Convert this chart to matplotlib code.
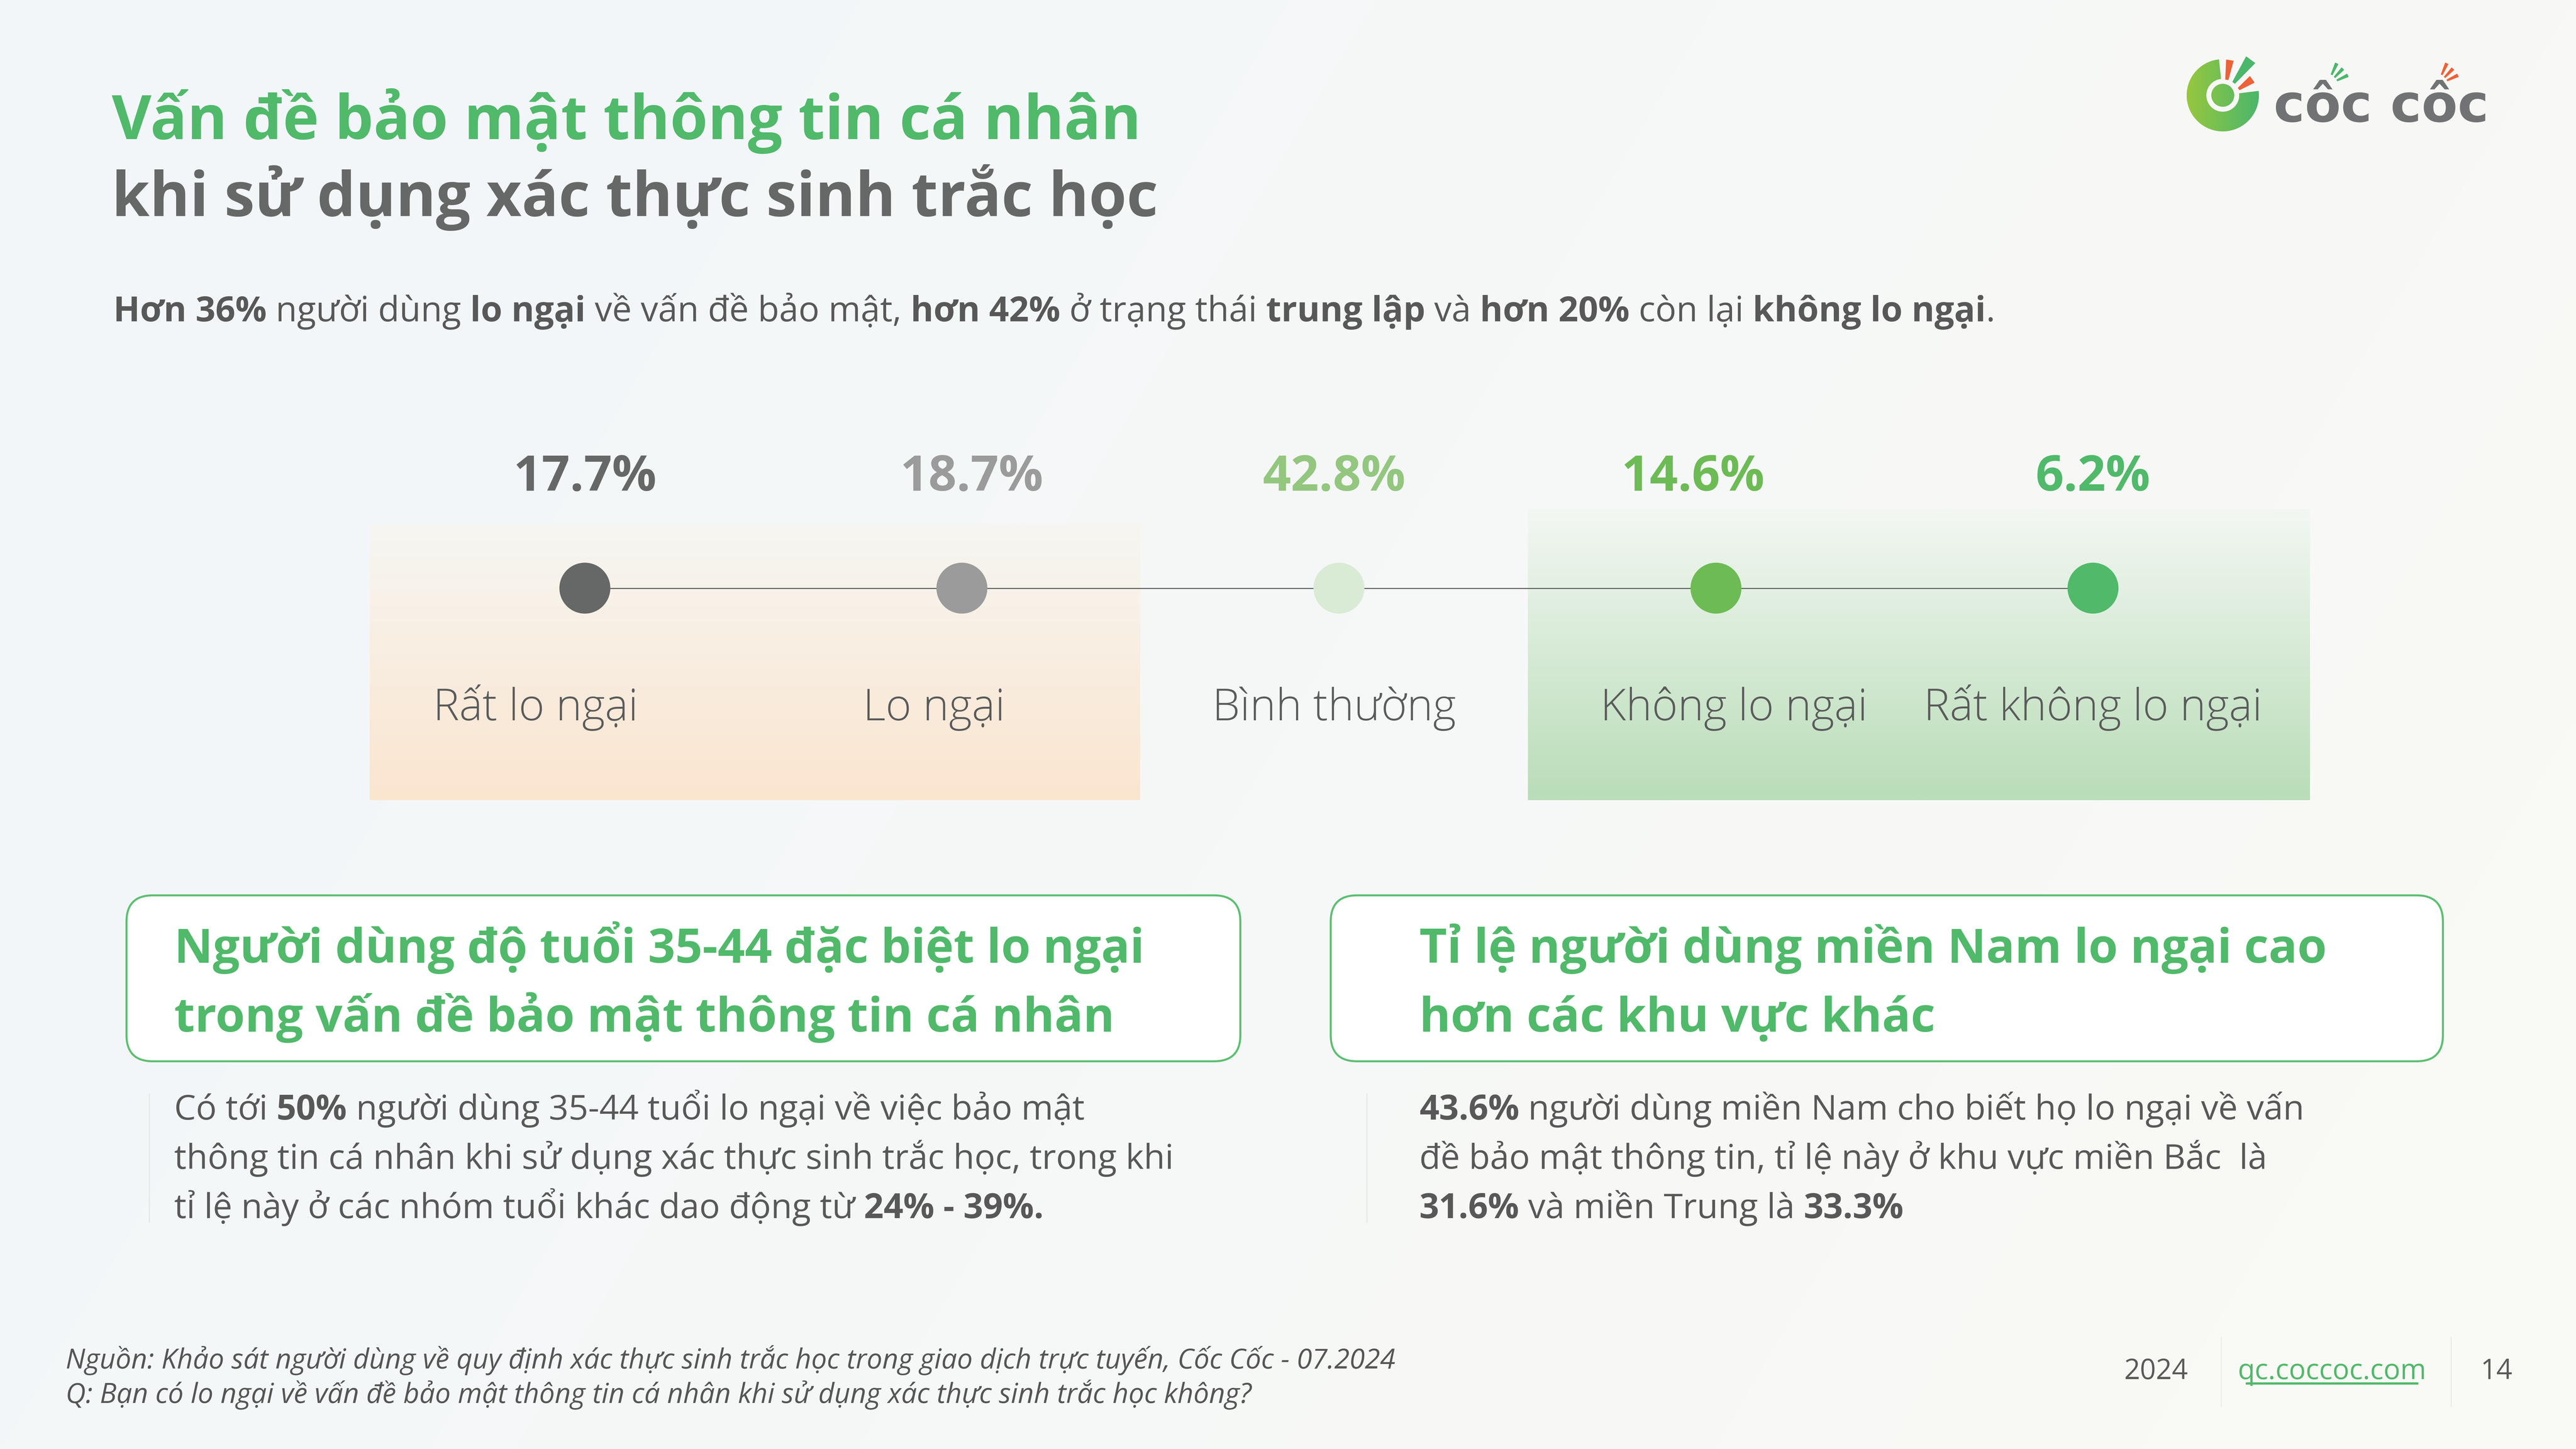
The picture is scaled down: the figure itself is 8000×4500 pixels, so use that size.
import numpy as np
import matplotlib
matplotlib.use("Agg")
import matplotlib.pyplot as plt
from matplotlib.patches import Wedge, Circle, FancyBboxPatch, Polygon
from matplotlib.colors import LinearSegmentedColormap, to_rgb

# ---------------- data ----------------
categories = ["Rất lo ngại", "Lo ngại", "Bình thường", "Không lo ngại", "Rất không lo ngại"]
shares = [17.7, 18.7, 42.8, 14.6, 6.2]
dot_colors = ["#666867", "#9A9B9A", "#D9EBD4", "#6DBB55", "#50B96A"]
pct_colors = ["#666867", "#9A9B9A", "#93C67F", "#6DBB55", "#50B96A"]

title_1 = "Vấn đề bảo mật thông tin cá nhân"
title_2 = "khi sử dụng xác thực sinh trắc học"
subtitle_parts = [("Hơn 36%", 1), (" người dùng ", 0), ("lo ngại", 1), (" về vấn đề bảo mật, ", 0),
                  ("hơn 42%", 1), (" ở trạng thái ", 0), ("trung lập", 1), (" và ", 0),
                  ("hơn 20%", 1), (" còn lại ", 0), ("không lo ngại", 1), (".", 0)]
card_left_title = ["Người dùng độ tuổi 35-44 đặc biệt lo ngại",
                   "trong vấn đề bảo mật thông tin cá nhân"]
card_left_body = [[("Có tới ", 0), ("50%", 1), (" người dùng 35-44 tuổi lo ngại về việc bảo mật", 0)],
                  [("thông tin cá nhân khi sử dụng xác thực sinh trắc học, trong khi", 0)],
                  [("tỉ lệ này ở các nhóm tuổi khác dao động từ ", 0), ("24% - 39%.", 1)]]
card_right_title = ["Tỉ lệ người dùng miền Nam lo ngại cao",
                    "hơn các khu vực khác"]
card_right_body = [[("43.6%", 1), (" người dùng miền Nam cho biết họ lo ngại về vấn", 0)],
                   [("đề bảo mật thông tin, tỉ lệ này ở khu vực miền Bắc  là", 0)],
                   [("31.6%", 1), (" và miền Trung là ", 0), ("33.3%", 1)]]
source_lines = ["Nguồn: Khảo sát người dùng về quy định xác thực sinh trắc học trong giao dịch trực tuyến, Cốc Cốc - 07.2024",
                "Q: Bạn có lo ngại về vấn đề bảo mật thông tin cá nhân khi sử dụng xác thực sinh trắc học không?"]
footer_year = "2024"
footer_url = "qc.coccoc.com"
footer_page = "14"

# ---------------- layout / style ----------------
W, H = 1568, 882            # layout units (reference preview pixels)
PT = (8000 / W) / (500 / 72)  # points per layout unit
FAM = "Open Sans"
GREEN = "#50B96A"
GRAY_T = "#666867"
BODY = "#585858"

fig = plt.figure(figsize=(16, 9), dpi=500)
ax = fig.add_axes([0, 0, 1, 1])
ax.set_xlim(0, W)
ax.set_ylim(H, 0)
ax.axis("off")
R = fig.canvas.get_renderer()
PXU = 8000 / W

# background gradient
yy, xx = np.mgrid[0:1:200j, 0:1:360j]
t = np.clip(xx * 0.75 + yy * 0.25, 0, 1)[..., None]
c0, c1 = np.array(to_rgb("#F2F6FA")), np.array(to_rgb("#FAFAF5"))
ax.imshow(c0 * (1 - t) + c1 * t, extent=(0, W, H, 0), aspect="auto", zorder=0, interpolation="bilinear")


def vgrad(x0, x1, y0, y1, ctop, cbot, z=1):
    g = np.linspace(0, 1, 256)[:, None, None]
    a, b = np.array(to_rgb(ctop)), np.array(to_rgb(cbot))
    img = a * (1 - g) + b * g
    ax.imshow(img, extent=(x0, x1, y1, y0), aspect="auto", zorder=z, interpolation="bilinear")


# highlight boxes
vgrad(225, 694, 319, 487, "#F6F6F2", "#FBE5CF")
vgrad(930, 1406, 310, 487, "#F3F7F3", "#B9DDB8")


def measure(s, **kw):
    a = ax.text(0, 0, s + "|", **kw)
    w1 = a.get_window_extent(R).width
    a.remove()
    b = ax.text(0, 0, "|", **kw)
    w2 = b.get_window_extent(R).width
    b.remove()
    return (w1 - w2) / PXU


def rich(x, y, parts, size, color, family=FAM, z=5):
    for s, bold in parts:
        kw = dict(fontsize=size, fontweight="bold" if bold else "normal", family=family)
        ax.text(x, y, s, color=color, va="baseline", ha="left", zorder=z, **kw)
        x += measure(s, **kw)


# titles
ax.text(68, 84.6, title_1, fontsize=37.2 * PT, fontweight="bold", family=FAM, color=GREEN, va="baseline")
ax.text(68, 131.5, title_2, fontsize=37.2 * PT, fontweight="bold", family=FAM, color=GRAY_T, va="baseline")
rich(69, 195.7, subtitle_parts, 21.2 * PT, BODY)

# ---------------- chart ----------------
cx0, cx1, cy0, cy1 = 225, 1406, 250, 500
ax2 = fig.add_axes([cx0 / W, 1 - cy1 / H, (cx1 - cx0) / W, (cy1 - cy0) / H])
u = 4 / (1274 - 356)
ax2.set_xlim(-(356 - cx0) * u, 4 + (cx1 - 1274) * u)
ax2.set_ylim(cy1, cy0)
ax2.axis("off")
ax2.patch.set_alpha(0)
xs = np.arange(len(categories))
DOT_Y, PCT_Y, LAB_Y = 358, 298.7, 438.5
ax2.plot(xs, [DOT_Y] * len(xs), color="#5A5B5A", lw=0.45, zorder=2, solid_capstyle="butt")
ax2.scatter(xs, [DOT_Y] * len(xs), s=(31 * PT) ** 2, c=dot_colors, zorder=3, linewidths=0)
pct_dx = [0, 6, -3, -14, 0]
lab_dx = [-30, -17, -3, 11, 0]
for i, (c, v) in enumerate(zip(categories, shares)):
    ax2.text(i + pct_dx[i] * u, PCT_Y, f"{v:.1f}%", ha="center", va="baseline", fontsize=30 * PT,
             fontweight="bold", family=FAM, color=pct_colors[i])
    ax2.text(i + lab_dx[i] * u, LAB_Y, c, ha="center", va="baseline", fontsize=26.8 * PT,
             fontweight="light", family=FAM, color="#5A5B5A")

# ---------------- cards ----------------
for (x0, x1), ttl, body in [((77, 755), card_left_title, card_left_body),
                            ((810, 1487), card_right_title, card_right_body)]:
    box = FancyBboxPatch((x0, 545), x1 - x0, 101, boxstyle="round,pad=0,rounding_size=16",
                         facecolor="white", edgecolor="#5CBF71", lw=0.9, zorder=3)
    ax.add_patch(box)
    tx = x0 + 29 if x0 < 500 else x0 + 54
    for k, line in enumerate(ttl):
        ax.text(tx, 586 + 42 * k, line, fontsize=29 * PT, fontweight="bold", family=FAM,
                color=GREEN, va="baseline", zorder=5)
    ax.plot([tx - 15 if x0 < 500 else tx - 32] * 2, [666, 744], color="#E6EAE8", lw=0.6, zorder=2)
    for k, parts in enumerate(body):
        rich(tx, 681.5 + 30 * k, parts, 21 * PT, BODY)

# ---------------- footer ----------------
for k, line in enumerate(source_lines):
    ax.text(40, 833 + 21 * k, line, fontsize=16.9 * PT, style="italic", family=FAM, color="#555555",
            va="baseline")
ax.text(1312.5, 839.5, footer_year, fontsize=17 * PT, family=FAM, color="#5A5A5A", ha="center", va="baseline")
ax.text(1419.5, 839.5, footer_url, fontsize=17 * PT, family=FAM, color=GREEN, ha="center", va="baseline")
ax.plot([1367, 1472], [842, 842], color=GREEN, lw=1.0, solid_capstyle="butt")
ax.text(1519.5, 839.5, footer_page, fontsize=17 * PT, family=FAM, color="#5A5A5A", ha="center", va="baseline")
for xv in (1352, 1492):
    ax.plot([xv, xv], [814, 856], color="#ECEDEA", lw=0.5)

# ---------------- logo ----------------
lc, lr = (1353, 58), 22
ring = Wedge(lc, lr, -7, 264, width=12, facecolor="none", edgecolor="none")
ax.add_patch(ring)
inner = Circle(lc, 7, facecolor="none", edgecolor="none")
ax.add_patch(inner)
cmap = LinearSegmentedColormap.from_list("lg", ["#97C73F", "#4BB76B"])
gx = np.linspace(0, 1, 128)[None, :].repeat(8, axis=0)
for patch in (ring, inner):
    im = ax.imshow(gx, cmap=cmap, extent=(lc[0] - lr, lc[0] + lr, lc[1] + lr, lc[1] - lr),
                   aspect="auto", zorder=6, interpolation="bilinear")
    im.set_clip_path(patch)


def stroke(p0, p1, w0, w1, color):
    p0, p1 = np.array(p0, float), np.array(p1, float)
    d = p1 - p0
    n = np.array([-d[1], d[0]]) / np.hypot(*d)
    pts = [p0 + n * w0 / 2, p1 + n * w1 / 2, p1 - n * w1 / 2, p0 - n * w0 / 2]
    ax.add_patch(Polygon(pts, closed=True, facecolor=color, edgecolor=color, lw=0.3, zorder=7,
                         joinstyle="round"))


stroke((1357.3, 36.8), (1355.5, 48.4), 4.2, 1.6, "#EE6238")
stroke((1369.9, 36.5), (1359.7, 50.3), 6.5, 1.6, "#4BB76B")
stroke((1370.8, 48.4), (1362.8, 54.1), 4.5, 1.4, "#EE6238")
ax.text(1384, 74, "côc côc", fontsize=32 * PT, fontweight="bold", family="DejaVu Sans",
        color="#707274", va="baseline", ha="left", zorder=6)
acc = [((1422.3, 38.7), (1419.3, 45.4)), ((1426.0, 41.9), (1421.1, 47.0)), ((1429.0, 45.9), (1422.6, 48.9))]
for off, col in ((0, "#4BB76B"), (67, "#EE6238")):
    for p0, p1 in acc:
        stroke((p0[0] + off, p0[1]), (p1[0] + off, p1[1]), 1.8, 0.8, col)

ax.set_xlim(0, W)
ax.set_ylim(H, 0)
fig.savefig("out.png", dpi=500)
